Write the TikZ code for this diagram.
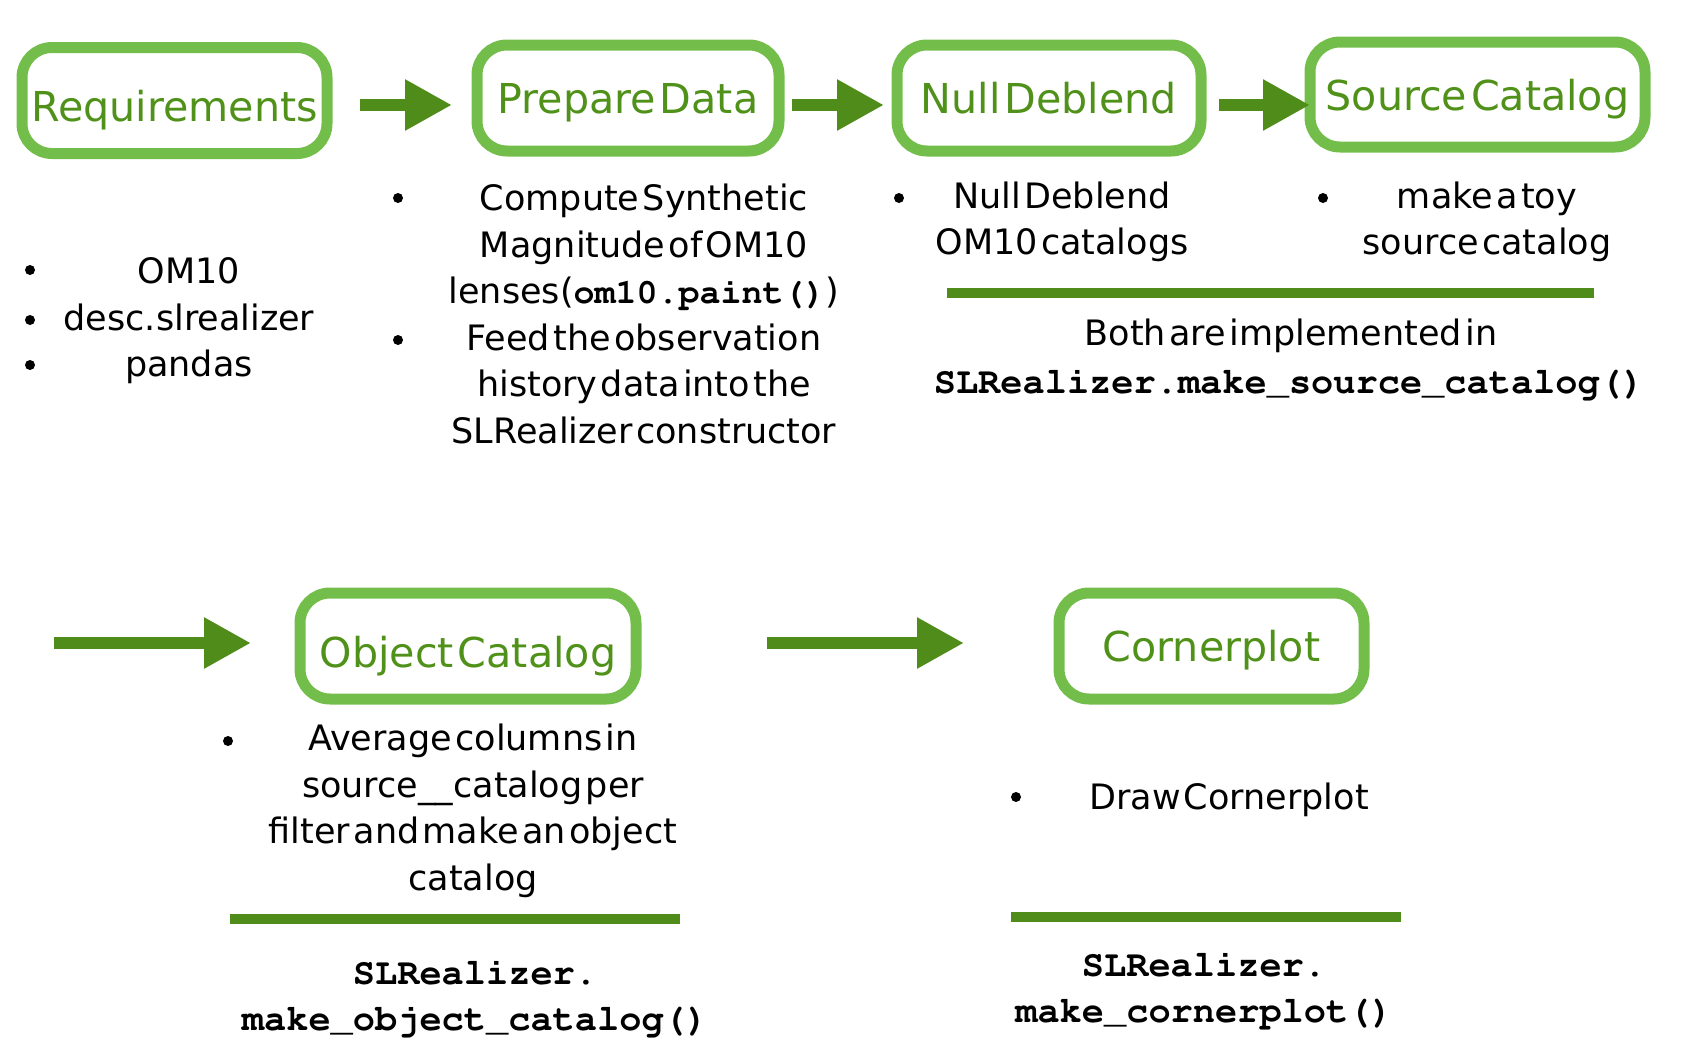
\documentclass[tikz,border=0pt]{standalone}
\usepackage[T1,TU]{fontenc}
\usepackage{fontspec}
\setmainfont[WordSpace=0.3]{DejaVu Sans}
\usetikzlibrary{arrows.meta}
\definecolor{brushgreen}{HTML}{73BE4B}
\definecolor{titlegreen}{HTML}{50911A}
\definecolor{flowgreen}{HTML}{508C1A}
\newcommand{\courierbf}{\fontencoding{T1}\fontfamily{pcr}\fontseries{b}\selectfont}
\newcommand{\code}[1]{{\courierbf #1}}

\begin{document}
\begin{tikzpicture}[x=0.5pt, y=-0.5pt,
		stage/.style={draw=brushgreen, line width=5.5pt, rounded corners=15pt,
			text=titlegreen, font=\fontsize{20.6}{24}\selectfont,
			minimum height=53pt, inner sep=0pt, text depth=0pt},
		notes/.style={align=center, font=\fontsize{17.5}{23.3}\selectfont},
		codes/.style={align=center, font=\fontsize{18.5}{23}\courierbf},
		dot/.style={circle, fill=black, inner sep=0pt, minimum size=5pt},
		flow/.style={flowgreen, line width=6pt, -{Triangle[length=23.5pt, width=24pt]}},
		rule/.style={flowgreen, line width=5pt}]
		\useasboundingbox (0, 0) rectangle (1694, 1060);
		% Pipeline stages.
		\node[stage, minimum width=152.5pt, text height=21pt] (req) at (174.5, 100.5) {Requirements};
		\node[stage, minimum width=151pt] (prep) at (628, 98) {Prepare Data};
		\node[stage, minimum width=152pt] (null) at (1049, 98) {Null Deblend};
		\node[stage, minimum width=167.5pt, minimum height=52.5pt] (src) at (1477.5, 94.5) {Source Catalog};
		\node[stage, minimum width=168pt, text height=21pt] (obj) at (468, 646) {Object Catalog};
		\node[stage, minimum width=152.5pt] (corner) at (1211.5, 646) {Cornerplot};
		% Flow arrows between the stages.
		\foreach \n/\sx/\ex/\y in {1/360/452/105, 2/792/884/105, 3/1219/1310/105,
				4/54/251/643, 5/767/964/643} {
			\coordinate (from\n) at (\sx, \y);
			\coordinate (to\n) at (\ex, \y);
			\draw[flow] (from\n) -- (to\n);
		}
		% Notes under each stage.
		\node[notes] (reqtext) at (189, 321) {OM10\\desc.slrealizer\\pandas};
		\node[notes] (preptext) at (644, 314) {Compute Synthetic\\Magnitude of OM10\\
			lenses(\code{om10.paint()})\\Feed the observation\\history data into the\\
			SLRealizer constructor};
		\node[notes] (nulltext) at (1062, 222) {Null Deblend\\OM10 catalogs};
		\node[notes] (srctext) at (1487, 222) {make a toy\\source catalog};
		\node[notes] (both) at (1291, 336) {Both are implemented in};
		\node[codes] (srccode) at (1289, 384) {SLRealizer.make\_source\_catalog()};
		\node[notes] (objtext) at (473, 811) {Average columns in\\source\_\_catalog per\\
			filter and make an object\\catalog};
		\node[codes] (objcode) at (475, 998) {SLRealizer.\\make\_object\_catalog()};
		\node[notes] (cornertext) at (1229, 800) {Draw Cornerplot};
		\node[codes] (cornercode) at (1204, 990) {SLRealizer.\\make\_cornerplot()};
		% Bullets.
		\foreach \x/\y [count=\i] in {30/270, 30/320, 30/365, 398/198, 398/340,
				899/198, 1323/198, 228/741, 1016/797}
			\node[dot] (dot\i) at (\x, \y) {};
		% Separator rules.
		\draw[rule] (947, 293) -- (1594, 293);
		\draw[rule] (230, 919) -- (680, 919);
		\draw[rule] (1011, 917) -- (1401, 917);
	\end{tikzpicture}
\end{document}
